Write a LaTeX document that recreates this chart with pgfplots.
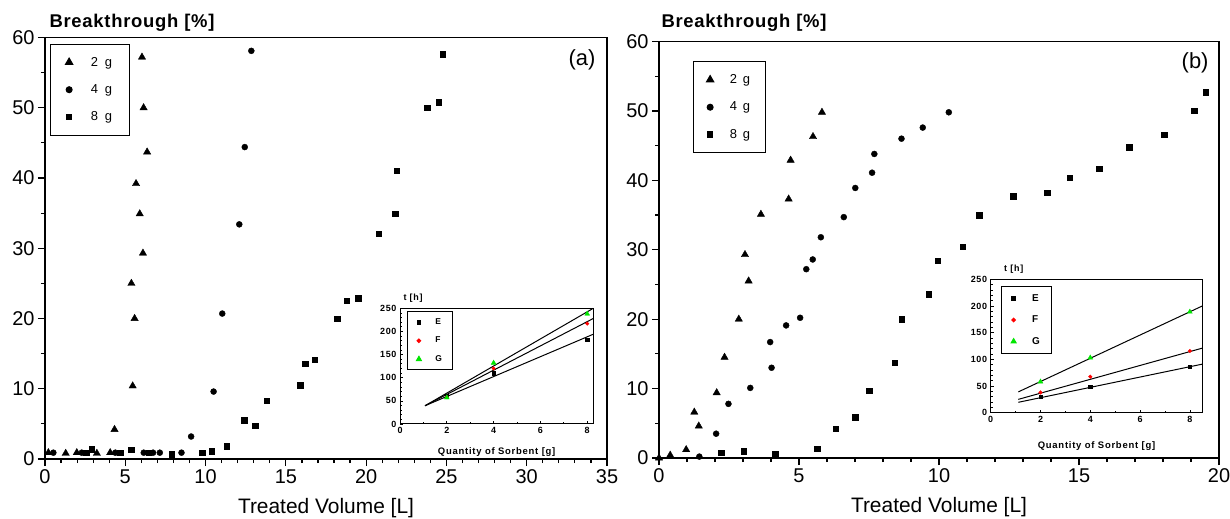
\documentclass[border=0pt]{standalone}
\usepackage{fontspec}
\setmainfont{Liberation Sans}
\newfontfamily\insfont[LetterSpace=8]{Liberation Sans}
\newfontfamily\labfont[LetterSpace=4]{Liberation Sans}
\usepackage{pgfplots}
\pgfplotsset{compat=1.18}
\definecolor{ggreen}{RGB}{0,230,0}
\definecolor{rred}{RGB}{255,0,0}
\pgfplotsset{
  mainax/.style={
    scale only axis, clip=false,
    axis line style={line width=1.4bp},
    every tick/.style={black, line width=1.2bp},
    tick align=outside, major tick length=7bp, minor tick length=4bp,
    xtick pos=bottom, ytick pos=left,
    ymin=0, ymax=60, ytick={0,10,...,60}, minor y tick num=1, minor x tick num=4,
    /pgf/number format/assume math mode=true,
    tick label style={font=\fontsize{20}{22}\selectfont},
    xlabel={Treated Volume [L]},
    xlabel style={font=\fontsize{21}{23}\selectfont, yshift=-8bp},
    ylabel={Breakthrough [\%]},
    ylabel style={rotate=-90, at={(rel axis cs:0,1)}, anchor=base west, font=\labfont\bfseries\fontsize{18.5}{20}\selectfont},
    legend cell align=left,
    legend style={at={(rel axis cs:0,1)}, anchor=north west, draw=black, line width=1bp,
      font=\fontsize{13}{15}\selectfont, row sep=13bp, column sep=16bp, inner xsep=15bp, inner ysep=11bp},
    m2/.style={only marks, mark=triangle*, mark size=4.2bp, black},
    m4/.style={only marks, mark=*, mark size=3bp, black},
    m8/.style={only marks, mark=square*, mark size=2.7bp, black},
  },
  insax/.style={
    scale only axis, clip=false,
    axis background/.style={fill=white},
    axis line style={line width=1bp},
    every tick/.style={black, line width=0.7bp},
    tick align=inside, major tick length=3bp, minor tick length=1.8bp,
    xtick pos=bottom, ytick pos=left,
    xmin=0, ymin=0, ymax=250, xtick={0,2,...,8}, ytick={0,50,...,250},
    minor y tick num=4, minor x tick num=1,
    /pgf/number format/assume math mode=true,
    tick label style={font=\insfont\bfseries\fontsize{9}{10}\selectfont},
    xlabel={Quantity of Sorbent [g]},
    xlabel style={font=\insfont\bfseries\fontsize{9.5}{11}\selectfont},
    ylabel={t [h]},
    ylabel style={rotate=-90, at={(rel axis cs:0,1)}, anchor=south west, font=\insfont\bfseries\fontsize{9}{10}\selectfont},
    legend cell align=left,
    legend style={at={(rel axis cs:0,1)}, anchor=north west, draw=black, line width=1bp,
      font=\bfseries\fontsize{8.5}{10}\selectfont, row sep=7bp, column sep=12bp, inner xsep=9bp, inner ysep=5bp},
    mE/.style={only marks, mark=square*, mark size=1.7bp, black},
    mF/.style={only marks, mark=*, mark size=1.8bp, rred},
    mG/.style={only marks, mark=triangle*, mark size=2.8bp, ggreen},
    fitl/.style={black, line width=1bp, no marks, forget plot},
  }
}
\begin{document}
\begin{tikzpicture}
\useasboundingbox (0,0) rectangle (1230bp,519bp);
% ---------------- panel (a)
\begin{axis}[mainax, at={(45bp,60bp)}, anchor=south west, width=562bp, height=421.5bp,
  xmin=0, xmax=35, xtick={0,5,...,35},
  ylabel style={xshift=1bp, yshift=10bp},
  legend style={xshift=5bp, yshift=-6bp}]
\addplot[m2] coordinates {(0.21,0.9) (1.29,0.8) (1.98,0.9) (3.23,0.8) (4.06,0.9) (4.33,4.2)
  (5.46,10.4) (5.58,20.0) (5.38,25.0) (6.10,29.3) (5.90,34.9) (5.67,39.2) (6.36,43.7) (6.14,50.0) (6.04,57.2)};
\addlegendentry{2\hspace{7bp}g}
\addplot[m4] coordinates {(0.52,0.9) (2.29,0.9) (4.38,0.9) (6.15,0.9) (6.73,0.9) (7.15,0.9) (8.50,0.9)
  (9.10,3.2) (10.50,9.6) (11.04,20.7) (12.10,33.4) (12.44,44.4) (12.85,58.1)};
\addlegendentry{4\hspace{7bp}g}
\addplot[m8] coordinates {(2.56,0.9) (2.92,1.4) (4.69,0.9) (5.38,1.3) (6.46,0.9) (7.88,0.7) (9.80,0.9)
  (10.40,1.1) (11.30,1.8) (12.40,5.5) (13.10,4.7) (13.80,8.3) (15.90,10.5) (16.20,13.6) (16.80,14.1)
  (18.20,20.0) (18.80,22.5) (19.50,22.9) (20.80,32.1) (21.80,34.9) (21.90,41.0) (23.80,50.0) (24.50,50.8) (24.75,57.6)};
\addlegendentry{8\hspace{7bp}g}
\node[anchor=east, font=\fontsize{22}{24}\selectfont] at ([xshift=-8bp,yshift=-22bp]rel axis cs:1,1) {(a)};
\end{axis}
% inset (a)
\begin{axis}[insax, at={(400bp,95bp)}, anchor=south west, width=193.3bp, height=115.7bp,
  xmax=8.26, ylabel style={xshift=0bp, yshift=2bp}, xlabel style={yshift=-7bp},
  legend style={xshift=7bp, yshift=-3bp}]
\addplot[mE] coordinates {(2,60) (4,110) (8,182)};
\addlegendentry{E}
\addplot[mF] coordinates {(2,58) (4,120) (8,217)};
\addlegendentry{F}
\addplot[mG] coordinates {(2,57) (4,132) (8,238)};
\addlegendentry{G}
\addplot[fitl] coordinates {(1.07,39.5) (8.26,194)};
\addplot[fitl] coordinates {(1.07,39.5) (8.26,228)};
\addplot[fitl] coordinates {(1.07,39.5) (8.26,250)};
\end{axis}
% ---------------- panel (b)
\begin{axis}[mainax, at={(659bp,61bp)}, anchor=south west, width=560bp, height=416.5bp,
  xmin=0, xmax=20, xtick={0,5,...,20},
  ylabel style={xshift=-1bp, yshift=14bp},
  legend style={xshift=34bp, yshift=-19.5bp, column sep=14bp, inner xsep=13bp}]
\addplot[m2] coordinates {(0.0,0.0) (0.40,0.4) (0.97,1.2) (1.42,4.6) (1.26,6.6) (2.06,9.4) (2.34,14.5)
  (2.85,20.0) (3.20,25.5) (3.07,29.3) (3.64,35.1) (4.63,37.3) (4.70,42.9) (5.50,46.3) (5.82,49.8)};
\addlegendentry{2\hspace{6bp}g}
\addplot[m4] coordinates {(1.44,0.2) (2.04,3.5) (2.48,7.8) (3.26,10.1) (4.02,13.0) (3.97,16.7) (4.54,19.1)
  (5.04,20.2) (5.26,27.2) (5.49,28.6) (5.78,31.8) (6.60,34.7) (7.01,38.9) (7.61,41.1) (7.69,43.8)
  (8.66,46.0) (9.42,47.6) (10.35,49.8)};
\addlegendentry{4\hspace{6bp}g}
\addplot[m8] coordinates {(2.22,0.8) (3.03,1.0) (4.15,0.6) (5.65,1.3) (6.31,4.2) (7.01,5.9) (7.50,9.7)
  (8.41,13.7) (8.66,20.0) (9.64,23.6) (9.95,28.4) (10.85,30.4) (11.43,35.0) (12.65,37.7) (13.87,38.2)
  (14.66,40.4) (15.72,41.7) (16.79,44.8) (18.04,46.6) (19.12,50.0) (19.53,52.7)};
\addlegendentry{8\hspace{6bp}g}
\node[anchor=east, font=\fontsize{22}{24}\selectfont] at ([xshift=-7bp,yshift=-21bp]rel axis cs:1,1) {(b)};
\end{axis}
% inset (b)
\begin{axis}[insax, at={(990.7bp,106.3bp)}, anchor=south west, width=211.6bp, height=133.4bp,
  xmax=8.5, ylabel style={xshift=10bp, yshift=2bp}, xlabel style={yshift=-12bp},
  legend style={xshift=10bp, yshift=-6.7bp, row sep=9bp, column sep=14bp, inner xsep=10bp, inner ysep=6bp,
    font=\bfseries\fontsize{10}{11}\selectfont}]
\addplot[mE] coordinates {(2,30) (4,48.7) (8,86)};
\addlegendentry{E}
\addplot[mF] coordinates {(2,38) (4,67.5) (8,115.6)};
\addlegendentry{F}
\addplot[mG] coordinates {(2,58) (4,103) (8,189)};
\addlegendentry{G}
\addplot[fitl] coordinates {(1.11,19.5) (8.5,91)};
\addplot[fitl] coordinates {(1.11,25) (8.5,121)};
\addplot[fitl] coordinates {(1.11,39) (8.5,200)};
\end{axis}
\end{tikzpicture}
\end{document}
